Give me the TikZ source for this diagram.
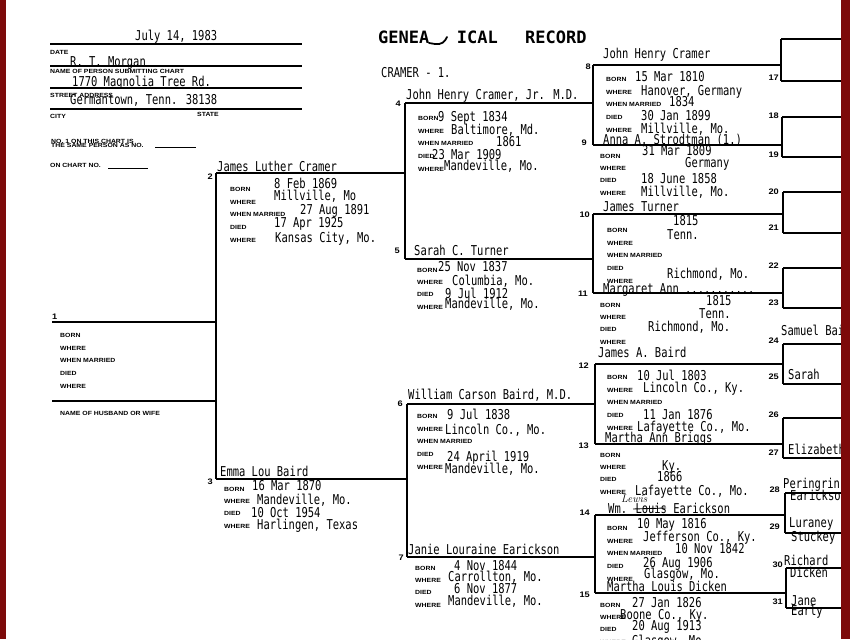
\documentclass[tikz,border=0pt]{standalone}
\usepackage{fontspec}
\usepackage{tikz}
\usetikzlibrary{calc}
\newfontfamily\typer[FakeStretch=0.77]{DejaVu Sans Mono}
\newfontfamily\formfont[FakeStretch=1.15,WordSpace=3.5]{Liberation Sans}
\newfontfamily\numfont[FakeStretch=1.15]{Liberation Sans}
\newfontfamily\titlefont{DejaVu Sans Mono}
\definecolor{binding}{RGB}{125,10,10}

\begin{document}
\begin{tikzpicture}[x=1pt,y=-1pt,
	lbl/.style={font=\formfont\bfseries\fontsize{6}{6}\selectfont,anchor=west,inner sep=0pt,text height=4.3pt,text depth=0pt},
	val/.style={font=\typer\fontsize{13.6}{14}\selectfont,anchor=west,inner sep=0pt,text height=9.9pt,text depth=0pt},
	num/.style={font=\numfont\bfseries\fontsize{8}{8}\selectfont,anchor=east,inner sep=0pt,text height=5.8pt,text depth=0pt},
	ttl/.style={font=\titlefont\bfseries\fontsize{17}{17}\selectfont,inner sep=0pt,text height=12.4pt,text depth=0pt},
	form/.style={line width=1.1pt},
	chart/.style={line width=1.6pt}]
		\fill[white] (0,0) rectangle (850,639);
		\useasboundingbox (0,0) rectangle (850,639);
		
		% chart head
		\foreach \y in {44,66,88,109} \draw[form] (50,\y) -- (302,\y);
		\draw[line width=0.7pt] (155,147) -- (196,147);
		\draw[line width=0.7pt] (108,168) -- (148,168);
		\foreach \x/\y/\t [count=\i] in {50/52/DATE, 50/71/NAME OF PERSON SUBMITTING CHART, 50/95/STREET ADDRESS, 50/116/CITY, 197/114/STATE, 51/141/NO. 1 ON THIS CHART IS, 51/145.5/THE SAME PERSON AS NO., 50/165/ON CHART NO., 60/413/NAME OF HUSBAND OR WIFE}
			\node[lbl] (h\i) at (\x,\y) {\t};
		\foreach \x/\y/\t [count=\i] in {135/36/{July 14, 1983}, 70/62/R. T. Morgan, 72/82/1770 Magnolia Tree Rd., 70/100/{Germantown, Tenn. 38138}, 381/73/CRAMER - 1.}
			\node[val] (d\i) at (\x,\y) {\t};
		\node[ttl,anchor=west] (gen) at (378,37) {GENEA};
		\node[ttl,anchor=east] (ical) at (498,37) {ICAL};
		\node[ttl,anchor=west] (rec) at (525,37) {RECORD};
		\draw[line width=1.8pt,line cap=round] (429,43) -- (435,44) .. controls (441,45) and (445,42) .. (447,37);
		
		% brackets
		\foreach \k/\x/\y in {1/52/322, 2/216/173, 3/216/479, 4/405/103, 5/405/259, 6/407/404, 7/407/557,
			8/593/65, 9/593/145, 10/593/214, 11/593/293, 12/595/364, 13/595/444, 14/595/515, 15/595/593,
			16/781/39, 17/781/81, 18/782/117, 19/782/157, 20/783/192, 21/783/233, 22/783/268, 23/783/308,
			24/783/344, 25/783/384, 26/783/418, 27/783/458, 28/785/493, 29/785/533, 30/786/568, 31/786/608}
			\coordinate (a\k) at (\x,\y);
		\coordinate (s1) at (52,401);
		\coordinate (rim) at (841,0);
		\foreach \k [evaluate=\k as \m using int(2*\k), evaluate=\k as \n using int(2*\k+1)] in {1,...,15}
			\draw[chart] (a\k) -- (a\k -| a\m) (a\m) -- (a\n);
		\foreach \k in {16,...,31} \draw[chart] (a\k) -- (a\k -| rim);
		\draw[chart] (s1) -- (s1 -| a2);
		
		% numbers
		\node[num,anchor=west] (no1) at (52,317) {1};
		\foreach \k/\x/\y in {2/213/177, 3/213/482, 4/401/104, 5/400/251, 6/403/404, 7/404/558, 8/591/67, 9/587/143,
			10/590/215, 11/588/294, 12/589/366, 13/589/446, 14/590/513, 15/590/595, 17/779/78, 18/779/116,
			19/779/155, 20/779/192, 21/779/228, 22/779/266, 23/779/303, 24/779/341, 25/779/377, 26/779/415,
			27/779/453, 28/780/490, 29/780/527, 30/783/565, 31/783/602}
			\node[num] (no\k) at (\x,\y) {\k};
		
		% field labels
		\foreach \k/\x/\y in {1/60/335, 2/230/189, 4/418/118, 6/417/416, 8/606/79, 10/607/230, 12/607/377, 14/607/528}
			\foreach \f/\d [count=\i] in {BORN/0, WHERE/13, WHEN MARRIED/25.5, DIED/38.5, WHERE/51}
				\node[lbl] (f\k-\i) at (\x,\y+\d) {\f};
		\foreach \k/\x/\y in {3/224/489, 5/417/270, 7/415/568, 9/600/156, 11/600/305, 13/600/455, 15/600/605}
			\foreach \f/\d [count=\i] in {BORN/0, WHERE/12.5, DIED/24.5, WHERE/37}
				\node[lbl] (f\k-\i) at (\x,\y+\d) {\f};
		
		% names
		\foreach \k/\x/\y/\t in {2/217/167/{James Luther Cramer}, 3/220/472/{Emma Lou Baird},
			4/406/95/{John Henry Cramer, Jr. M.D.}, 5/414/251/{Sarah C. Turner},
			6/408/395/{William Carson Baird, M.D.}, 7/408/550/{Janie Louraine Earickson},
			8/603/54/{John Henry Cramer}, 9/603/140/{Anna A. Strodtman (1.)}, 10/603/207/{James Turner},
			11/603/289/{Margaret Ann ...........}, 12/598/353/{James A. Baird}, 13/605/438/{Martha Ann Briggs},
			14/608/509/{Wm. Louis Earickson}, 15/607/587/{Martha Louis Dicken}}
			\node[val] (n\k) at (\x,\y) {\t};
		\foreach \x/\y/\t [count=\i] in {781/331/{Samuel Baird}, 788/375/Sarah, 788/450/Elizabeth, 783/484/Peringrin,
			790/496/Earickson, 789/523/Luraney, 791/537/Stuckey, 784/561/Richard, 790/573/Dicken, 791/601/Jane, 791/611/Early}
			\node[val] (r\i) at (\x,\y) {\t};
		\draw[line width=0.9pt] ($(n14.west)+(25,0)$) -- ++(33,-1);
		\node[font=\itshape\fontsize{11}{11}\selectfont,inner sep=0pt,anchor=west] (amend) at (621,499) {Lewis};
		
		% dates and places
		\foreach \x/\y/\t [count=\i] in {274/184/8 Feb 1869, 274/196/{Millville, Mo}, 300/210/27 Aug 1891, 274/223/17 Apr 1925, 275/238/{Kansas City, Mo.},
			252/486/16 Mar 1870, 257/500/{Mandeville, Mo.}, 251/513/10 Oct 1954, 257/525/{Harlingen, Texas},
			438/117/9 Sept 1834, 451/130/{Baltimore, Md.}, 496/142/1861, 432/155/23 Mar 1909, 444/166/{Mandeville, Mo.},
			438/267/25 Nov 1837, 452/281/{Columbia, Mo.}, 445/294/9 Jul 1912, 445/304/{Mandeville, Mo.},
			447/415/9 Jul 1838, 445/430/{Lincoln Co., Mo.}, 447/457/24 April 1919, 445/469/{Mandeville, Mo.},
			454/566/4 Nov 1844, 448/577/{Carrollton, Mo.}, 454/589/6 Nov 1877, 448/601/{Mandeville, Mo.},
			635/77/15 Mar 1810, 641/91/{Hanover, Germany}, 669/102/1834, 641/116/30 Jan 1899, 641/129/{Millville, Mo.},
			642/151/31 Mar 1809, 685/163/Germany, 641/179/18 June 1858, 641/192/{Millville, Mo.},
			673/221/1815, 667/235/Tenn., 667/274/{Richmond, Mo.},
			706/301/1815, 699/314/Tenn., 648/327/{Richmond, Mo.},
			637/376/10 Jul 1803, 643/388/{Lincoln Co., Ky.}, 643/415/11 Jan 1876, 637/427/{Lafayette Co., Mo.},
			662/466/Ky., 657/477/1866, 635/491/{Lafayette Co., Mo.},
			637/524/10 May 1816, 643/537/{Jefferson Co., Ky.}, 675/549/10 Nov 1842, 643/563/26 Aug 1906, 644/574/{Glasgow, Mo.},
			632/603/27 Jan 1826, 620/615/{Boone Co., Ky.}, 632/626/20 Aug 1913, 632/641/{Glasgow, Mo.}}
			\node[val] (v\i) at (\x,\y) {\t};
		
		% binding edges
		\fill[binding] (0,0) rectangle (6,639);
		\fill[binding] (rim) rectangle (850,639);
		\end{tikzpicture}
\end{document}
